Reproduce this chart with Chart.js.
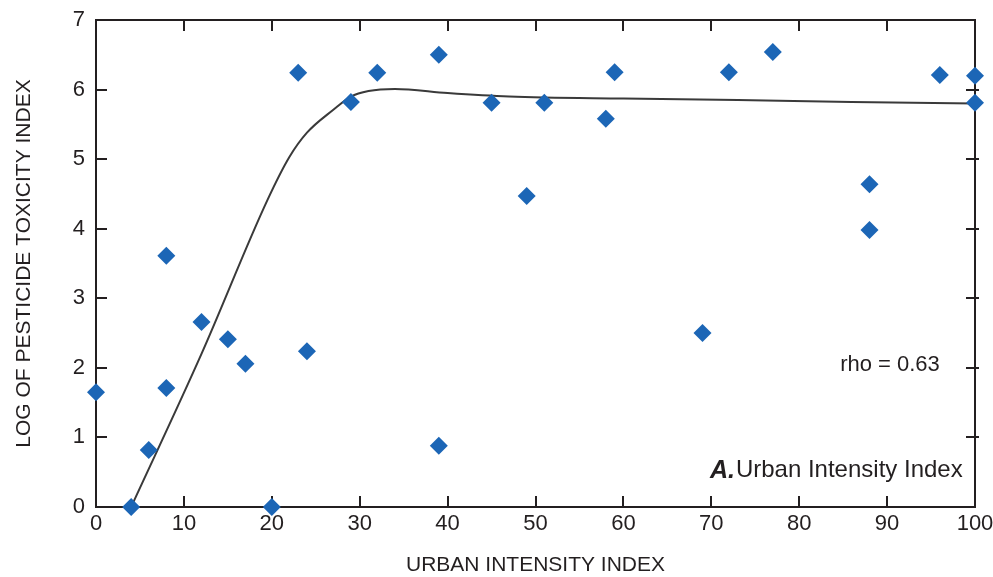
<!DOCTYPE html>
<html><head><meta charset="utf-8">
<script src="https://cdn.jsdelivr.net/npm/chart.js@4.4.1/dist/chart.umd.min.js"></script>
<style>html,body{margin:0;padding:0;background:#fff}</style>
</head><body>
<canvas id="c" width="993" height="577"></canvas>
<script>
// Observations
const urbanIndex = [0, 4, 6, 8, 8, 12, 15, 17, 20, 23, 24, 29, 32, 39, 39, 45, 49, 51, 58, 59, 69, 72, 77, 88, 88, 96, 100, 100];
const pesticideToxicity = [1.65, 0, 0.82, 3.61, 1.71, 2.66, 2.41, 2.06, 0, 6.24, 2.24, 5.82, 6.24, 6.50, 0.88, 5.81, 4.47, 5.81, 5.58, 6.25, 2.50, 6.25, 6.54, 4.64, 3.98, 6.21, 6.20, 5.81];
// Smoothed fit line
const fitX = [4, 12, 19.5, 22, 24, 27, 29, 31, 34, 40, 47, 60, 73, 86, 100];
const fitY = [0, 2.2, 4.41, 5.03, 5.38, 5.71, 5.9, 5.98, 6.01, 5.95, 5.90, 5.87, 5.85, 5.82, 5.80];
// Axes
const xTicks = [0, 10, 20, 30, 40, 50, 60, 70, 80, 90, 100];
const yTicks = [0, 1, 2, 3, 4, 5, 6, 7];
const xTitle = 'URBAN INTENSITY INDEX';
const yTitle = 'LOG OF PESTICIDE TOXICITY INDEX';
const rhoText = 'rho = 0.63';
const panelLetter = 'A.';
const panelText = 'Urban Intensity Index';

const INK = '#231f20';
const FONT = '"Liberation Sans", Arial, sans-serif';

const frame = {
  id: 'frame',
  beforeDatasetsDraw(chart) {
    const {ctx, chartArea: a, scales: {x, y}} = chart;
    ctx.save();
    ctx.strokeStyle = INK;
    ctx.lineWidth = 2;
    ctx.strokeRect(a.left, a.top, a.right - a.left, a.bottom - a.top);
    ctx.beginPath();
    xTicks.slice(1, -1).forEach(v => {
      const px = Math.round(x.getPixelForValue(v));
      ctx.moveTo(px, a.bottom); ctx.lineTo(px, a.bottom - 11);
      ctx.moveTo(px, a.top); ctx.lineTo(px, a.top + 11);
    });
    yTicks.slice(1, -1).forEach(v => {
      const py = Math.round(y.getPixelForValue(v));
      ctx.moveTo(a.left, py); ctx.lineTo(a.left + 11, py);
      ctx.moveTo(a.right - 9, py); ctx.lineTo(a.right + 4, py);
    });
    ctx.stroke();
    ctx.restore();
  },
  afterDatasetsDraw(chart) {
    const {ctx, scales: {x, y}} = chart;
    ctx.save();
    ctx.fillStyle = INK;
    ctx.textBaseline = 'middle';
    ctx.textAlign = 'right';
    ctx.font = '22px ' + FONT;
    ctx.fillText(rhoText, x.getPixelForValue(96), y.getPixelForValue(2.04));
    const py = y.getPixelForValue(0.52);
    ctx.font = '24px ' + FONT;
    const right = x.getPixelForValue(98.6);
    ctx.fillText(panelText, right, py);
    const w = ctx.measureText(panelText).width;
    ctx.font = 'italic bold 25px ' + FONT;
    ctx.fillText(panelLetter, right - w - 1, py);
    ctx.restore();
  }
};

new Chart(document.getElementById('c'), {
  type: 'scatter',
  data: {
    datasets: [
      {
        data: urbanIndex.map((v, i) => ({x: v, y: pesticideToxicity[i]})),
        pointStyle: 'rectRot',
        pointRadius: 9,
        pointBackgroundColor: '#1c66b6',
        pointBorderWidth: 0,
        pointBorderColor: '#1c66b6',
        clip: false,
        order: 1
      },
      {
        data: fitX.map((v, i) => ({x: v, y: fitY[i]})),
        showLine: true,
        pointRadius: 0,
        borderColor: '#3a3a3a',
        borderWidth: 2,
        cubicInterpolationMode: 'monotone',
        order: 2
      }
    ]
  },
  options: {
    responsive: false,
    animation: false,
    events: [],
    layout: {padding: {top: 20, right: 18, left: 0, bottom: 0}},
    plugins: {legend: {display: false}, tooltip: {enabled: false}},
    scales: {
      x: {
        type: 'linear', min: 0, max: 100,
        afterBuildTicks: s => { s.ticks = xTicks.map(v => ({value: v})); },
        afterFit: s => { s.height = 70; s.paddingLeft = 0; s.paddingRight = 0; },
        grid: {display: false, drawTicks: false},
        border: {display: false},
        ticks: {color: INK, font: {family: FONT, size: 22}, padding: 4, maxRotation: 0, autoSkip: false},
        title: {display: true, text: xTitle, color: INK, font: {family: FONT, size: 21}, padding: {top: 0, bottom: -1}}
      },
      y: {
        type: 'linear', min: 0, max: 7,
        afterBuildTicks: s => { s.ticks = yTicks.map(v => ({value: v})); },
        afterFit: s => { s.width = 96; s.paddingTop = 0; s.paddingBottom = 0; },
        grid: {display: false, drawTicks: false},
        border: {display: false},
        ticks: {color: INK, font: {family: FONT, size: 22}, padding: 11, autoSkip: false},
        title: {display: true, text: yTitle, color: INK, font: {family: FONT, size: 21}, padding: {top: 12, bottom: 0}}
      }
    }
  },
  plugins: [frame]
});
</script>
</body></html>
